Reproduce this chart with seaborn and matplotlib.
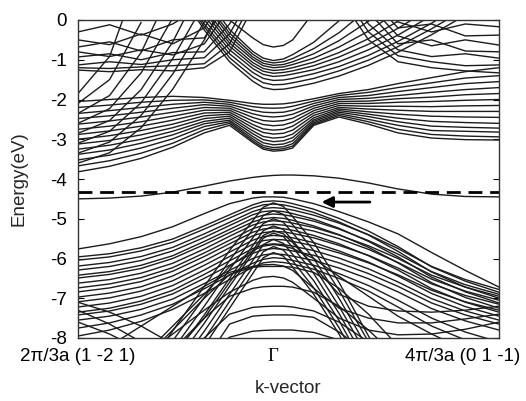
import numpy as np
import pandas as pd
import matplotlib
matplotlib.use("Agg")
import matplotlib.pyplot as plt
import matplotlib.transforms as mtransforms
import seaborn as sns

# k positions of the sampled nodes (fraction of the path, Gamma at 0.464)
k_nodes = [0.0, 0.075, 0.15, 0.225, 0.30, 0.36, 0.415, 0.44, 0.464,
           0.488, 0.51, 0.56, 0.62, 0.69, 0.76, 0.84, 0.92, 1.0]
k_tick_pos = [0.0, 0.464, 1.0]
k_tick_labels = ["2\u03c0/3a (1 -2 1)", "\u0393", "4\u03c0/3a (0 1 -1)"]
energy_ticks = [0, -1, -2, -3, -4, -5, -6, -7, -8]
fermi_level = -4.33
N = None

# conduction: bands with a dip at Gamma
cond_fan = [
    [-2.05, -2.0, -1.95, -1.92, -1.95, -2.02, -2.1, -2.12, -2.12, -2.11, -2.08, -1.98, -1.85, -1.75, -1.6, -1.45, -1.3, -1.2],
    [-2.2, -2.14, -2.07, -2.02, -2.01, -2.07, -2.18, -2.21, -2.22, -2.21, -2.17, -2.04, -1.9, -1.82, -1.7, -1.58, -1.46, -1.4],
    [-2.35, -2.28, -2.2, -2.12, -2.07, -2.12, -2.27, -2.32, -2.33, -2.32, -2.27, -2.1, -1.95, -1.9, -1.8, -1.7, -1.6, -1.55],
    [-2.48, -2.41, -2.32, -2.22, -2.13, -2.17, -2.36, -2.42, -2.44, -2.42, -2.37, -2.16, -2.0, -1.97, -1.9, -1.82, -1.75, -1.7],
    [-2.62, -2.54, -2.44, -2.32, -2.2, -2.22, -2.45, -2.53, -2.55, -2.53, -2.47, -2.22, -2.05, -2.04, -1.98, -1.94, -1.88, -1.85],
    [-2.75, -2.67, -2.56, -2.42, -2.27, -2.27, -2.54, -2.63, -2.66, -2.64, -2.57, -2.28, -2.1, -2.1, -2.07, -2.05, -2.02, -2.0],
    [-2.88, -2.79, -2.67, -2.52, -2.34, -2.32, -2.63, -2.74, -2.77, -2.75, -2.67, -2.34, -2.15, -2.17, -2.17, -2.18, -2.16, -2.15],
    [-3.0, -2.91, -2.78, -2.62, -2.41, -2.37, -2.71, -2.83, -2.87, -2.85, -2.77, -2.4, -2.2, -2.24, -2.27, -2.3, -2.3, -2.3],
    [-3.12, -3.03, -2.89, -2.71, -2.48, -2.42, -2.79, -2.93, -2.97, -2.95, -2.87, -2.46, -2.24, -2.31, -2.37, -2.42, -2.44, -2.45],
    [-3.25, -3.15, -3.0, -2.8, -2.55, -2.47, -2.86, -3.01, -3.06, -3.04, -2.96, -2.51, -2.28, -2.37, -2.47, -2.55, -2.58, -2.6],
    [-3.38, -3.27, -3.1, -2.89, -2.61, -2.52, -2.93, -3.09, -3.14, -3.12, -3.04, -2.55, -2.32, -2.43, -2.56, -2.67, -2.7, -2.72],
    [-3.52, -3.4, -3.22, -2.99, -2.68, -2.56, -2.99, -3.16, -3.21, -3.19, -3.11, -2.59, -2.36, -2.5, -2.65, -2.78, -2.8, -2.82],
    [-3.67, -3.54, -3.35, -3.1, -2.76, -2.6, -3.04, -3.21, -3.26, -3.24, -3.17, -2.62, -2.4, -2.56, -2.75, -2.88, -2.92, -2.94],
    [-3.82, -3.68, -3.48, -3.2, -2.84, -2.65, -3.08, -3.25, -3.3, -3.28, -3.22, -2.65, -2.44, -2.62, -2.84, -2.97, -3.01, -3.02],
]

# conduction: U-shaped bands with minimum at Gamma
cond_u = [
    [N, N, N, 2.0, 0.63, -0.24, -0.79, -0.96, -1.02, -0.98, -0.87, -0.56, -0.02, 0.77, N, N, N, N],
    [N, N, N, 2.0, 0.49, -0.33, -0.86, -1.03, -1.08, -1.05, -0.97, -0.72, -0.32, 0.29, 1.5, N, N, N],
    [N, N, N, 1.8, 0.41, -0.41, -0.93, -1.09, -1.14, -1.12, -1.05, -0.85, -0.52, -0.03, 0.57, N, N, N],
    [N, N, N, 1.6, 0.3, -0.5, -0.99, -1.15, -1.2, -1.18, -1.12, -0.96, -0.68, -0.28, 0.23, 1.5, N, N],
    [N, N, N, 1.5, 0.2, -0.58, -1.07, -1.22, -1.27, -1.25, -1.2, -1.06, -0.82, -0.47, -0.03, 0.55, N, N],
    [N, N, N, 1.4, 0.1, -0.66, -1.14, -1.29, -1.34, -1.32, -1.28, -1.15, -0.93, -0.61, -0.21, 0.31, 1.5, N],
    [N, N, N, 1.3, 0.0, -0.75, -1.22, -1.37, -1.42, -1.4, -1.36, -1.25, -1.05, -0.75, -0.38, 0.11, 1.2, N],
    [N, N, N, 1.05, -0.1, -0.85, -1.32, -1.47, -1.52, -1.51, -1.47, -1.35, -1.17, -0.89, -0.54, -0.08, 0.44, N],
    [N, N, N, 1.0, -0.17, -0.95, -1.43, -1.58, -1.63, -1.62, -1.58, -1.47, -1.28, -1.01, -0.67, -0.22, 0.28, 1.5],
    [N, N, N, 0.96, -0.25, -1.05, -1.54, -1.7, -1.75, -1.74, -1.7, -1.59, -1.41, -1.14, -0.81, -0.37, 0.12, 1.2],
    [N, N, N, N, 1.0, 0.0, -0.45, -0.62, -0.68, -0.64, -0.5, 0.2, 1.5, N, N, N, N, N],
]

# conduction: steep bands rising from the left edge
cond_steep = [
    [-3.6, -3.34, -2.71, -1.74, -0.5, 0.75, N, N, N, N, N, N, N, N, N, N, N, N],
    [-3.35, -3.07, -2.4, -1.36, -0.05, 0.8, N, N, N, N, N, N, N, N, N, N, N, N],
    [-3.1, -2.8, -2.08, -0.97, 0.43, N, N, N, N, N, N, N, N, N, N, N, N, N],
    [-2.85, -2.53, -1.75, -0.55, 1.0, N, N, N, N, N, N, N, N, N, N, N, N, N],
    [-2.6, -2.23, -1.33, 0.05, N, N, N, N, N, N, N, N, N, N, N, N, N, N],
    [-2.35, -1.9, -0.82, 0.87, N, N, N, N, N, N, N, N, N, N, N, N, N, N],
    [-2.1, -1.5, -0.06, N, N, N, N, N, N, N, N, N, N, N, N, N, N, N],
    [-1.85, -0.92, 1.3, N, N, N, N, N, N, N, N, N, N, N, N, N, N, N],
]

# conduction: wavy bands near the top, left and right
wavy_left = [
    [-0.3, -0.12, -0.38, -0.1, 0.4, N, N, N, N, N, N, N, N, N, N, N, N, N],
    [-0.5, -0.62, -0.35, -0.6, -0.2, 0.8, N, N, N, N, N, N, N, N, N, N, N, N],
    [-0.68, -0.55, -0.78, -0.5, -0.45, 0.5, N, N, N, N, N, N, N, N, N, N, N, N],
    [-0.8, -0.92, -0.75, -0.88, -0.6, 0.3, N, N, N, N, N, N, N, N, N, N, N, N],
    [-0.93, -0.85, -1.0, -0.82, -0.8, -0.1, 0.9, N, N, N, N, N, N, N, N, N, N, N],
    [-1.13, -1.05, -1.12, -1.0, -0.95, -0.35, 0.7, N, N, N, N, N, N, N, N, N, N, N],
    [-1.2, -1.22, -1.18, -1.15, -1.1, -0.6, 0.5, N, N, N, N, N, N, N, N, N, N, N],
    [-1.26, -1.3, -1.25, -1.28, -1.2, -0.8, 0.3, N, N, N, N, N, N, N, N, N, N, N],
]
wavy_right = [
    [N, N, N, N, N, N, N, N, N, N, N, N, N, 0.8, -0.05, -0.3, -0.1, -0.17],
    [N, N, N, N, N, N, N, N, N, N, N, N, N, 0.6, -0.2, -0.1, -0.4, -0.38],
    [N, N, N, N, N, N, N, N, N, N, N, N, N, 0.4, -0.4, -0.65, -0.5, -0.63],
    [N, N, N, N, N, N, N, N, N, N, N, N, N, 0.2, -0.6, -0.5, -0.78, -0.8],
    [N, N, N, N, N, N, N, N, N, N, N, N, 1.0, -0.1, -0.75, -0.92, -0.85, -0.96],
    [N, N, N, N, N, N, N, N, N, N, N, N, 0.8, -0.3, -0.9, -1.05, -1.15, -1.13],
    [N, N, N, N, N, N, N, N, N, N, N, N, 0.6, -0.5, -1.05, -1.2, -1.28, -1.33],
]

# surface state crossing the gap
surface_band = [-4.50, -4.48, -4.43, -4.33, -4.18, -4.05, -3.96, -3.93, -3.91,
                -3.90, -3.90, -3.92, -3.98, -4.10, -4.25, -4.38, -4.44, -4.45]

# valence: fan of bands peaking at Gamma
val_fan = [
    [-5.76, -5.63, -5.45, -5.20, -4.87, -4.62, -4.48, -4.45, -4.45, -4.46, -4.50, -4.62, -4.82, -5.08, -5.38, -5.85, -6.30, -6.72],
    [-5.96, -5.88, -5.73, -5.51, -5.18, -4.90, -4.65, -4.57, -4.55, -4.57, -4.62, -4.76, -4.99, -5.31, -5.70, -6.21, -6.57, -6.85],
    [-6.04, -5.96, -5.81, -5.59, -5.26, -4.98, -4.73, -4.65, -4.63, -4.65, -4.70, -4.84, -5.08, -5.41, -5.82, -6.34, -6.72, -7.0],
    [-6.19, -6.10, -5.95, -5.72, -5.38, -5.09, -4.82, -4.74, -4.72, -4.74, -4.78, -4.91, -5.11, -5.40, -5.75, -6.20, -6.53, -6.78],
    [-6.29, -6.20, -6.05, -5.81, -5.47, -5.17, -4.90, -4.82, -4.80, -4.82, -4.87, -5.01, -5.24, -5.57, -5.96, -6.47, -6.84, -7.12],
    [-6.42, -6.33, -6.17, -5.93, -5.57, -5.27, -4.99, -4.91, -4.88, -4.90, -4.94, -5.06, -5.26, -5.55, -5.89, -6.33, -6.66, -6.9],
    [-6.49, -6.40, -6.25, -6.00, -5.65, -5.35, -5.08, -5.00, -4.97, -4.99, -5.04, -5.18, -5.40, -5.72, -6.11, -6.61, -6.98, -7.25],
    [-6.62, -6.53, -6.37, -6.12, -5.76, -5.44, -5.16, -5.08, -5.05, -5.07, -5.11, -5.22, -5.41, -5.68, -6.0, -6.42, -6.72, -6.95],
    [-6.74, -6.64, -6.48, -6.23, -5.86, -5.54, -5.25, -5.17, -5.14, -5.16, -5.20, -5.31, -5.50, -5.77, -6.10, -6.52, -6.82, -7.05],
    [-6.84, -6.74, -6.58, -6.32, -5.95, -5.63, -5.34, -5.26, -5.23, -5.25, -5.29, -5.42, -5.63, -5.93, -6.29, -6.76, -7.10, -7.35],
    [-6.97, -6.87, -6.71, -6.44, -6.06, -5.73, -5.43, -5.35, -5.32, -5.33, -5.37, -5.48, -5.67, -5.92, -6.24, -6.64, -6.93, -7.15],
    [-7.09, -6.99, -6.82, -6.56, -6.17, -5.84, -5.54, -5.45, -5.42, -5.44, -5.48, -5.60, -5.81, -6.09, -6.44, -6.88, -7.21, -7.45],
    [-7.22, -7.12, -6.95, -6.68, -6.29, -5.95, -5.64, -5.55, -5.52, -5.53, -5.57, -5.68, -5.86, -6.11, -6.41, -6.80, -7.09, -7.3],
    [-7.35, -7.25, -7.07, -6.80, -6.40, -6.06, -5.75, -5.66, -5.63, -5.65, -5.69, -5.80, -5.99, -6.26, -6.59, -7.01, -7.32, -7.55],
    [-7.42, -7.32, -7.15, -6.89, -6.50, -6.17, -5.87, -5.78, -5.75, -5.77, -5.81, -5.92, -6.11, -6.38, -6.70, -7.12, -7.42, -7.65],
    [-7.55, -7.45, -7.28, -7.02, -6.63, -6.30, -6.00, -5.91, -5.88, -5.90, -5.94, -6.05, -6.24, -6.51, -6.84, -7.26, -7.57, -7.8],
    [-7.75, -7.62, -7.42, -7.15, -6.76, -6.42, -6.12, -6.02, -5.98, -6.00, -6.05, -6.17, -6.38, -6.68, -7.05, -7.5, -7.85, -8.1],
    [-7.95, -7.8, -7.58, -7.28, -6.88, -6.53, -6.22, -6.11, -6.08, -6.10, -6.14, -6.27, -6.5, -6.82, -7.22, -7.7, -8.05, -8.3],
]

# valence: steep bundle forming a peak at Gamma
val_lambda = [
    [N, N, -9.0, -7.82, -6.70, -5.80, -5.05, -4.71, -4.60, -4.69, -4.95, -5.60, -6.60, -7.95, -9.2, N, N, N],
    [N, N, -9.2, -8.07, -6.98, -6.05, -5.27, -4.92, -4.80, -4.89, -5.15, -5.80, -6.80, -8.10, -9.4, N, N, N],
    [N, N, -9.4, -8.3, -7.2, -6.28, -5.48, -5.12, -5.0, -5.09, -5.36, -6.0, -7.0, -8.3, -9.6, N, N, N],
    [N, N, -9.6, -8.5, -7.42, -6.5, -5.68, -5.3, -5.18, -5.27, -5.55, -6.2, -7.2, -8.5, -9.8, N, N, N],
    [N, N, -9.8, -8.7, -7.63, -6.7, -5.87, -5.49, -5.36, -5.45, -5.72, -6.38, -7.38, -8.7, N, N, N, N],
    [N, N, N, -8.9, -7.83, -6.9, -6.05, -5.65, -5.52, -5.62, -5.9, -6.56, -7.56, -8.9, N, N, N, N],
    [N, N, N, -9.1, -8.03, -7.08, -6.22, -5.83, -5.7, -5.79, -6.06, -6.74, -7.74, -9.1, N, N, N, N],
    [N, N, N, -9.3, -8.2, -7.25, -6.38, -5.98, -5.85, -5.94, -6.22, -6.9, -7.9, -9.3, N, N, N, N],
]

# valence: flat arcs below the peak
val_arcs = [
    [N, N, -8.6, -7.8, -7.0, -6.4, -6.22, -6.2, -6.2, -6.2, -6.22, -6.35, -6.75, -7.4, -8.2, N, N, N],
    [N, N, N, -8.3, -7.5, -6.95, -6.75, -6.71, -6.7, -6.7, -6.72, -6.85, -7.2, -7.8, -8.5, N, N, N],
    [N, N, N, -8.6, -8.0, -7.4, -7.23, -7.21, -7.2, -7.2, -7.22, -7.32, -7.6, -8.1, -8.6, N, N, N],
    [N, N, N, N, -8.6, -7.65, -7.45, -7.43, -7.42, -7.42, -7.42, -7.48, -7.85, -8.4, N, N, N, N],
    [N, N, N, N, -8.5, -7.98, -7.83, -7.81, -7.8, -7.8, -7.8, -7.86, -8.05, -8.4, N, N, N, N],
]

# valence: crossing bands at the lower left
val_cross = [
    [-7.3, -7.65, -8.1, -8.6, N, N, N, N, N, N, N, N, N, N, N, N, N, N],
    [-7.1, -7.35, -7.7, -8.15, N, N, N, N, N, N, N, N, N, N, N, N, N, N],
    [-7.6, -7.9, -8.3, N, N, N, N, N, N, N, N, N, N, N, N, N, N, N],
]

# valence: bands running to the lower right
val_lower = [
    [N, N, N, -8.4, -7.5, -6.6, -5.8, -5.42, -5.3, -5.38, -5.6, -6.2, -6.9, -7.2, -7.32, -7.35, -7.3, -7.2],
    [N, -8.2, -7.7, -7.2, -6.7, -6.35, -6.2, -6.16, -6.15, -6.19, -6.3, -6.75, -7.25, -7.5, -7.62, -7.62, -7.52, -7.4],
    [N, N, -8.5, -7.9, -7.3, -6.85, -6.55, -6.47, -6.45, -6.49, -6.6, -7.0, -7.5, -7.8, -7.92, -7.9, -7.78, -7.6],
    [N, N, -8.5, -7.7, -6.9, -6.2, -5.8, -5.69, -5.65, -5.68, -5.75, -6.0, -6.45, -6.95, -7.45, -7.9, -8.3, N],
]

families = [cond_fan, cond_u, cond_steep, wavy_left, wavy_right, [surface_band],
            val_fan, val_lambda, val_arcs, val_cross, val_lower]

rows = []
band_id = 0
for fam in families:
    for band in fam:
        for k, e in zip(k_nodes, band):
            if e is not None:
                rows.append((band_id, k, e))
        band_id += 1
df = pd.DataFrame(rows, columns=["band", "k", "E"])

sns.set_style("ticks")
plt.rcParams["font.family"] = ["Liberation Sans", "DejaVu Sans"]

fig = plt.figure(figsize=(5.26, 4.01), dpi=100)
ax = fig.add_axes([78 / 526, 63 / 401, 421 / 526, 318 / 401])

sns.lineplot(data=df, x="k", y="E", units="band", estimator=None, sort=False,
             color="#1c1c1c", lw=1.0, legend=False, ax=ax)

ax.axhline(fermi_level, color="black", lw=2.0, ls=(0, (5.0, 2.8)))
ax.annotate("", xy=(0.572, -4.58), xytext=(0.70, -4.58),
            arrowprops=dict(arrowstyle="-|>", color="black", lw=2.0, mutation_scale=16))

ax.set_xlim(0, 1)
ax.set_ylim(-8, 0)
ax.set_xticks(k_tick_pos)
ax.set_xticklabels(k_tick_labels)
ax.set_yticks(energy_ticks)
ax.set_yticklabels([str(v) for v in energy_ticks])
ax.tick_params(direction="in", length=4, width=0.8, top=True, right=True,
               labelsize=13.5, colors="black", pad=8)
ax.tick_params(axis="x", length=0, pad=7)
for sp in ax.spines.values():
    sp.set_visible(True)
    sp.set_linewidth(1.0)
    sp.set_color("#333333")

labels = ax.get_xticklabels()
labels[1].set_fontfamily(["Liberation Serif", "DejaVu Serif"])
labels[2].set_horizontalalignment("right")
labels[2].set_transform(labels[2].get_transform() +
                        mtransforms.ScaledTranslation(0.21, 0, fig.dpi_scale_trans))

ax.set_xlabel("k-vector", fontsize=13.5, labelpad=11)
ax.set_ylabel("Energy(eV)", fontsize=13.5, labelpad=16)

fig.savefig("out.png", dpi=100)
